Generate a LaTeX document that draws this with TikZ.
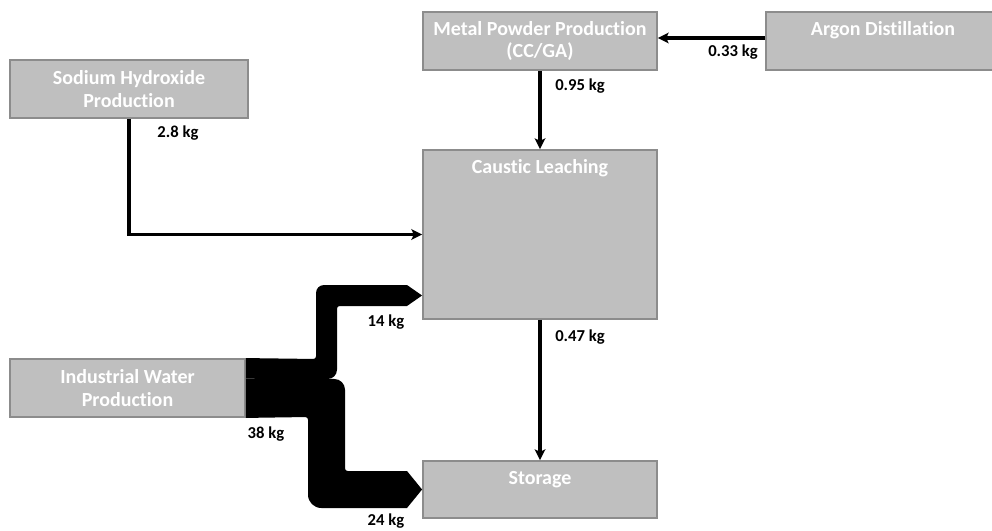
\documentclass[tikz,border=0pt]{standalone}
\usepackage{fontspec}
\setmainfont{Carlito}[Ligatures=NoCommon]
\usetikzlibrary{arrows.meta,calc}
\definecolor{boxfill}{HTML}{BFBFBF}
\definecolor{boxline}{HTML}{8C8C8C}
\begin{document}
\begin{tikzpicture}[x=0.75pt,y=-0.75pt,
  box/.style={draw=boxline, fill=boxfill, line width=1.4pt, text=white,
    font=\bfseries\fontsize{15}{17}\selectfont, align=center, inner xsep=2pt,
    inner ysep=0pt, minimum width=234*0.75pt, minimum height=58*0.75pt},
  topbox/.style={box, text height=18pt, text depth=#1},
  flow/.style={line width=2.4pt, -{Stealth[length=8pt,width=8pt,inset=1.8pt]}},
  band/.style={fill=black},
  lbl/.style={font=\bfseries\fontsize{12.5}{14}\selectfont, text=black, inner sep=0pt}
]
\useasboundingbox (0,0) rectangle (992,531);
\fill[white] (0,0) rectangle (992,531);

% boxes
\node[box] (metal) at (540,41) {Metal Powder Production\\(CC/GA)};
\node[topbox=25.5pt] (argon) at (883,41) {Argon Distillation};
\node[box, minimum width=238*0.75pt] (sodium) at (129,89) {Sodium Hydroxide\\Production};
\node[topbox=108.75pt, minimum height=169*0.75pt] (caustic) at (540,234.5) {Caustic Leaching};
\node[box, minimum width=235*0.75pt] (water) at (127.5,388) {Industrial Water\\Production};
\node[box, text height=17.25pt, text depth=25.5pt, minimum height=57*0.75pt] (storage) at (540,489.5) {Storage};

% thin flows
\draw[flow] (argon.west |- 0,38) -- (metal.east |- 0,38);
\draw[flow] (metal) -- (caustic);
\draw[flow] (sodium.south) |- (caustic.west);
\draw[flow] (caustic) -- (storage);

% thick flows from industrial water
\coordinate (wsplit) at ($(water.north east)!0.345!(water.south east)$);
\coordinate (tipC) at (caustic.west |- 0,295.5);
\coordinate (tipS) at (storage.west |- 0,489.5);
\fill[band] (water.north east) [rounded corners=2pt] -- (316,359)
  [rounded corners=6pt] -- (316,285) [sharp corners] -- (407,285) -- (tipC)
  -- (407,306) [rounded corners=2pt] -- (337,306) [rounded corners=7pt] -- (337,379)
  [sharp corners] -- (wsplit) -- cycle;
\fill[band] (wsplit) [rounded corners=8pt] -- (345,379) [rounded corners=2pt] -- (345,471)
  [sharp corners] -- (407,471) -- (tipS) -- (407,508) [rounded corners=10pt] -- (308,508)
  [rounded corners=2pt] -- (308,417) [sharp corners] -- (water.south east) -- cycle;

% labels
\node[lbl] (l033) at (733,52) {0.33 kg};
\node[lbl] (l095) at (580,86) {0.95 kg};
\node[lbl] (l28) at (178,133) {2.8 kg};
\node[lbl] (l14) at (386,322) {14 kg};
\node[lbl] (l047) at (580,337) {0.47 kg};
\node[lbl] (l38) at (266,434) {38 kg};
\node[lbl] (l24) at (386,521) {24 kg};
\end{tikzpicture}
\end{document}
